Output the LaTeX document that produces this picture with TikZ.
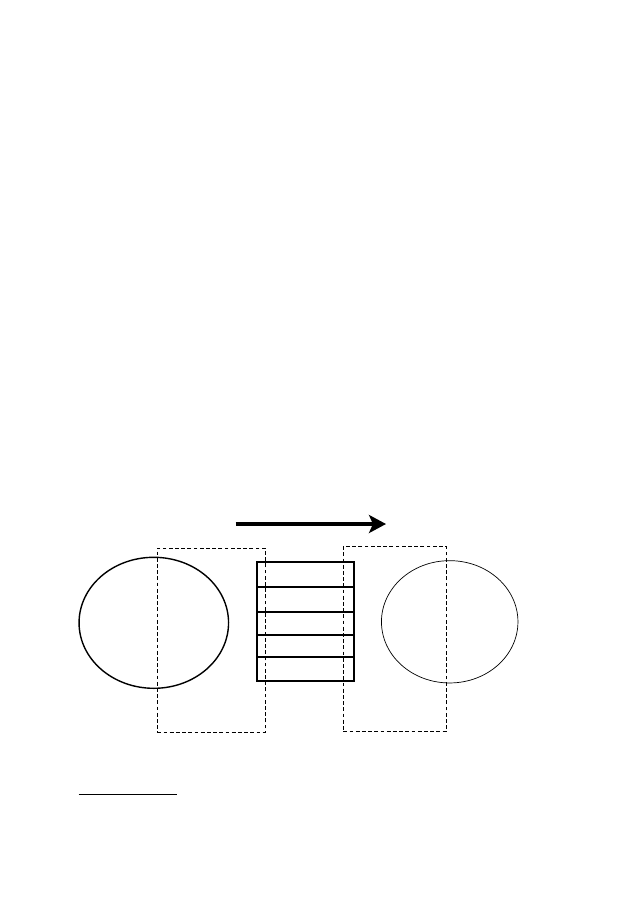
\documentclass[tikz,border=0pt]{standalone}
\usetikzlibrary{shapes.geometric,arrows.meta}
\begin{document}
\begin{tikzpicture}[x=1pt,y=-1pt,
  blob/.style={draw,ellipse,inner sep=0pt},
  zone/.style={draw,rectangle,inner sep=0pt,line width=0.8pt,dash pattern=on 3.8pt off 2.4pt},
  cell/.style={draw,rectangle,inner sep=0pt,line width=2pt,minimum width=97.3pt}]
\useasboundingbox (0,0) rectangle (630,906);
\node[blob,line width=1.4pt,minimum width=149.5pt,minimum height=131pt] (src) at (153.8,622.8) {};
\node[blob,line width=0.7pt,minimum width=136.5pt,minimum height=122.3pt] (dst) at (449.7,621.8) {};
\node[zone,minimum width=108pt,minimum height=183.7pt] (lz) at (211.3,640.2) {};
\node[zone,minimum width=102.7pt,minimum height=185.4pt] (rz) at (394.7,639) {};
\node[cell,minimum height=25pt] (c1) at (305.35,574.2) {};
\node[cell,minimum height=25.3pt] (c2) at (305.35,599.35) {};
\node[cell,minimum height=22.7pt] (c3) at (305.35,623.35) {};
\node[cell,minimum height=22pt] (c4) at (305.35,645.7) {};
\node[cell,minimum height=24.3pt] (c5) at (305.35,668.85) {};
\coordinate (as) at (235.7,524);
\coordinate (ae) at (386,524);
\draw[line width=4.5pt,-{Stealth[length=17pt,width=18pt,inset=4pt]}] (as) -- (ae);
\coordinate (fa) at (78.7,794.3);
\coordinate (fb) at (177,794.3);
\draw[line width=1pt] (fa) -- (fb);
\end{tikzpicture}
\end{document}
